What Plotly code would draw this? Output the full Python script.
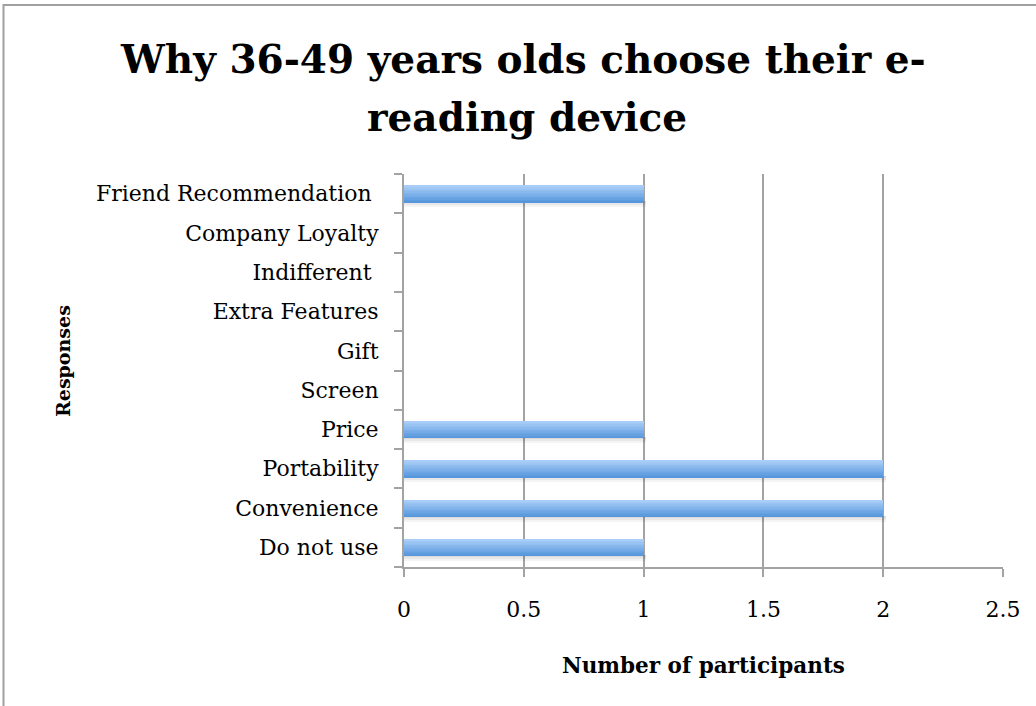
import plotly.graph_objects as go

# ---- data ----
categories = ["Do not use", "Convenience", "Portability", "Price", "Screen",
              "Gift", "Extra Features", "Indifferent\u00a0", "Company Loyalty",
              "Friend Recommendation\u00a0"]
participants = [1, 2, 2, 1, 0, 0, 0, 0, 0, 1]
x_ticks = [0, 0.5, 1, 1.5, 2, 2.5]
x_tick_labels = ["0", "0.5", "1", "1.5", "2", "2.5"]

title_lines = ["Why 36-49 years olds choose their e-", "reading device"]
x_title = "Number of participants"
y_title = "Responses"

# ---- geometry / style ----
W, H = 1036, 706
L, R, T, B = 404, 33, 174, 139
PW, PH = W - L - R, H - T - B
FONT = "DejaVu Serif"
GRID = "#a3a3a3"


def px(x):
    return (x - L) / PW


def py(y):
    return (H - B - y) / PH


BAR_W = 0.43
N_STRIPS = 12
top_rgb = (168, 205, 248)
bot_rgb = (86, 150, 220)

fig = go.Figure()

# soft shadow under bars
shadow_alpha = [0.14, 0.09, 0.045]
sh_h = 0.05
shadow_x = [v + 0.012 if v > 0 else 0 for v in participants]
for i, a in enumerate(shadow_alpha):
    fig.add_trace(go.Bar(
        y=categories, x=shadow_x, orientation="h",
        width=sh_h, offset=-BAR_W / 2 - (i + 1) * sh_h + 0.02,
        marker=dict(color=f"rgba(0,0,0,{a})", line=dict(width=0)),
        hoverinfo="skip", showlegend=False))

# gradient bars drawn as thin strips (bottom -> top)
sw = BAR_W / N_STRIPS
for i in range(N_STRIPS):
    t = i / (N_STRIPS - 1)
    c = tuple(int(round(bot_rgb[k] + (top_rgb[k] - bot_rgb[k]) * t)) for k in range(3))
    fig.add_trace(go.Bar(
        y=categories, x=participants, orientation="h",
        width=sw * 1.02, offset=-BAR_W / 2 + i * sw,
        marker=dict(color=f"rgb{c}", line=dict(width=0)),
        hoverinfo="x+y" if i == 0 else "skip", showlegend=False))

fig.update_layout(
    width=W, height=H, autosize=False,
    margin=dict(l=L, r=R, t=T, b=B, pad=0),
    barmode="overlay", bargap=0,
    paper_bgcolor="white", plot_bgcolor="white",
    font=dict(family=FONT, color="black"),
    showlegend=False,
)

fig.update_xaxes(
    range=[0, 2.5], tickmode="array", tickvals=x_ticks, ticktext=x_tick_labels,
    showgrid=True, gridcolor=GRID, gridwidth=2,
    showline=True, linecolor=GRID, linewidth=2,
    ticks="outside", ticklen=8, tickwidth=2, tickcolor=GRID,
    tickfont=dict(family=FONT, size=22), ticklabelstandoff=14,
    zeroline=False, fixedrange=True,
)
fig.update_yaxes(
    type="category", categoryorder="array", categoryarray=categories,
    range=[-0.5, len(categories) - 0.5],
    showgrid=False, showline=True, linecolor=GRID, linewidth=2,
    ticks="outside", ticklen=8, tickwidth=2, tickcolor=GRID, tickson="boundaries",
    tickfont=dict(family=FONT, size=22), ticklabelstandoff=19,
    zeroline=False, fixedrange=True,
)

# title (two lines placed separately for the wider line spacing)
title_pos = [(523, 59), (527, 117)]
for line, (tx, ty) in zip(title_lines, title_pos):
    fig.add_annotation(text=f"<b>{line}</b>", xref="paper", yref="paper",
                       x=px(tx), y=py(ty), xanchor="center", yanchor="middle",
                       showarrow=False,
                       font=dict(family=FONT, size=39, color="black"))

# axis titles
fig.add_annotation(text=f"<b>{x_title}</b>", xref="paper", yref="paper",
                   x=px(703), y=py(665),
                   xanchor="center", yanchor="middle", showarrow=False,
                   font=dict(family=FONT, size=21.5, color="black"))
fig.add_annotation(text=f"<b>{y_title}</b>", xref="paper", yref="paper",
                   x=px(63), y=py(361), textangle=-90,
                   xanchor="center", yanchor="middle", showarrow=False,
                   font=dict(family=FONT, size=19, color="black"))

# outer chart border (extends past the right/bottom of the picture)
fig.add_shape(type="rect", xref="paper", yref="paper",
              x0=px(3.5), x1=px(W + 10), y0=py(H + 10), y1=py(5),
              line=dict(color="#a0a0a0", width=2), fillcolor="rgba(0,0,0,0)",
              layer="below")

fig.write_html("out.html",
               config={"displayModeBar": False},
               post_script="document.body.style.margin='0';"
                           "document.body.style.overflow='hidden';")
